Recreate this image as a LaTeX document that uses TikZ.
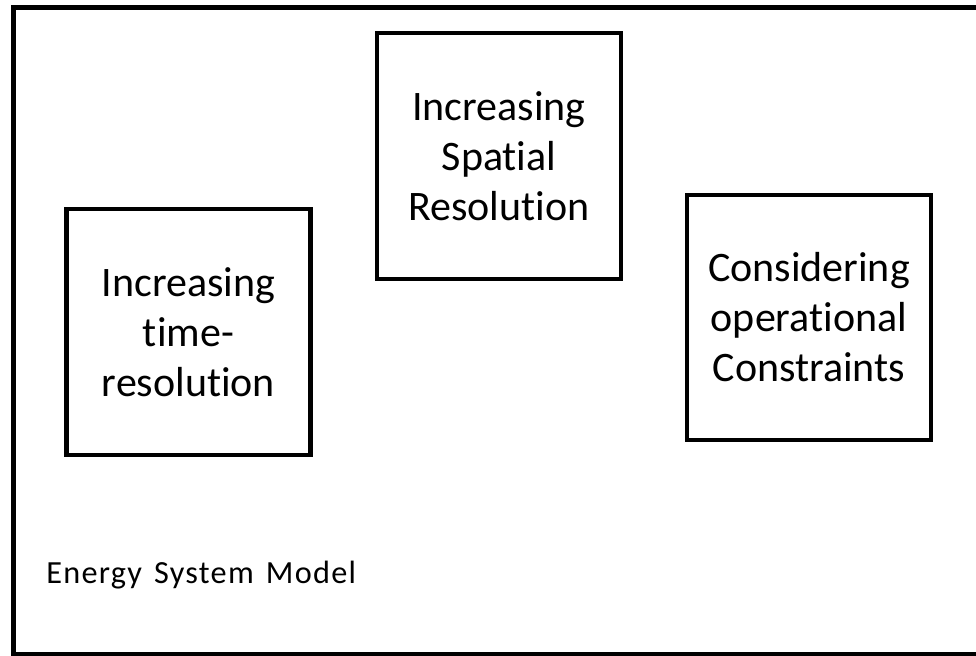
\documentclass[tikz,border=0pt]{standalone}
\usepackage{fontspec}
\setmainfont[Ligatures=NoCommon]{Carlito}
\newfontfamily\esmfont[Ligatures=NoCommon,LetterSpace=4,WordSpace=1.4]{Carlito}
\begin{document}
\begin{tikzpicture}[x=0.75pt,y=-0.75pt,
  stagebox/.style={draw=black,line width=3.2pt,minimum width=183pt,minimum height=184pt,align=center,
    font=\fontsize{31.5}{37.5}\selectfont,inner sep=0pt},
  outerbox/.style={draw=black,line width=3.75pt}]
\useasboundingbox (0,0) rectangle (976,656);
\clip (0,0) rectangle (976,656);
\draw[outerbox] (13.5,8) rectangle (990,654);
\node[stagebox] (time) at (188.5,332) {Increasing\\time-\\resolution};
\node[stagebox] (space) at (499,156) {Increasing\\Spatial\\Resolution};
\node[stagebox] (ops) at (809,317.5) {Considering\\operational\\Constraints};
\node[anchor=base west,inner sep=0pt,font=\esmfont\fontsize{24.2}{28}\selectfont] (esm) at (46,583) {Energy System Model};
\end{tikzpicture}
\end{document}
